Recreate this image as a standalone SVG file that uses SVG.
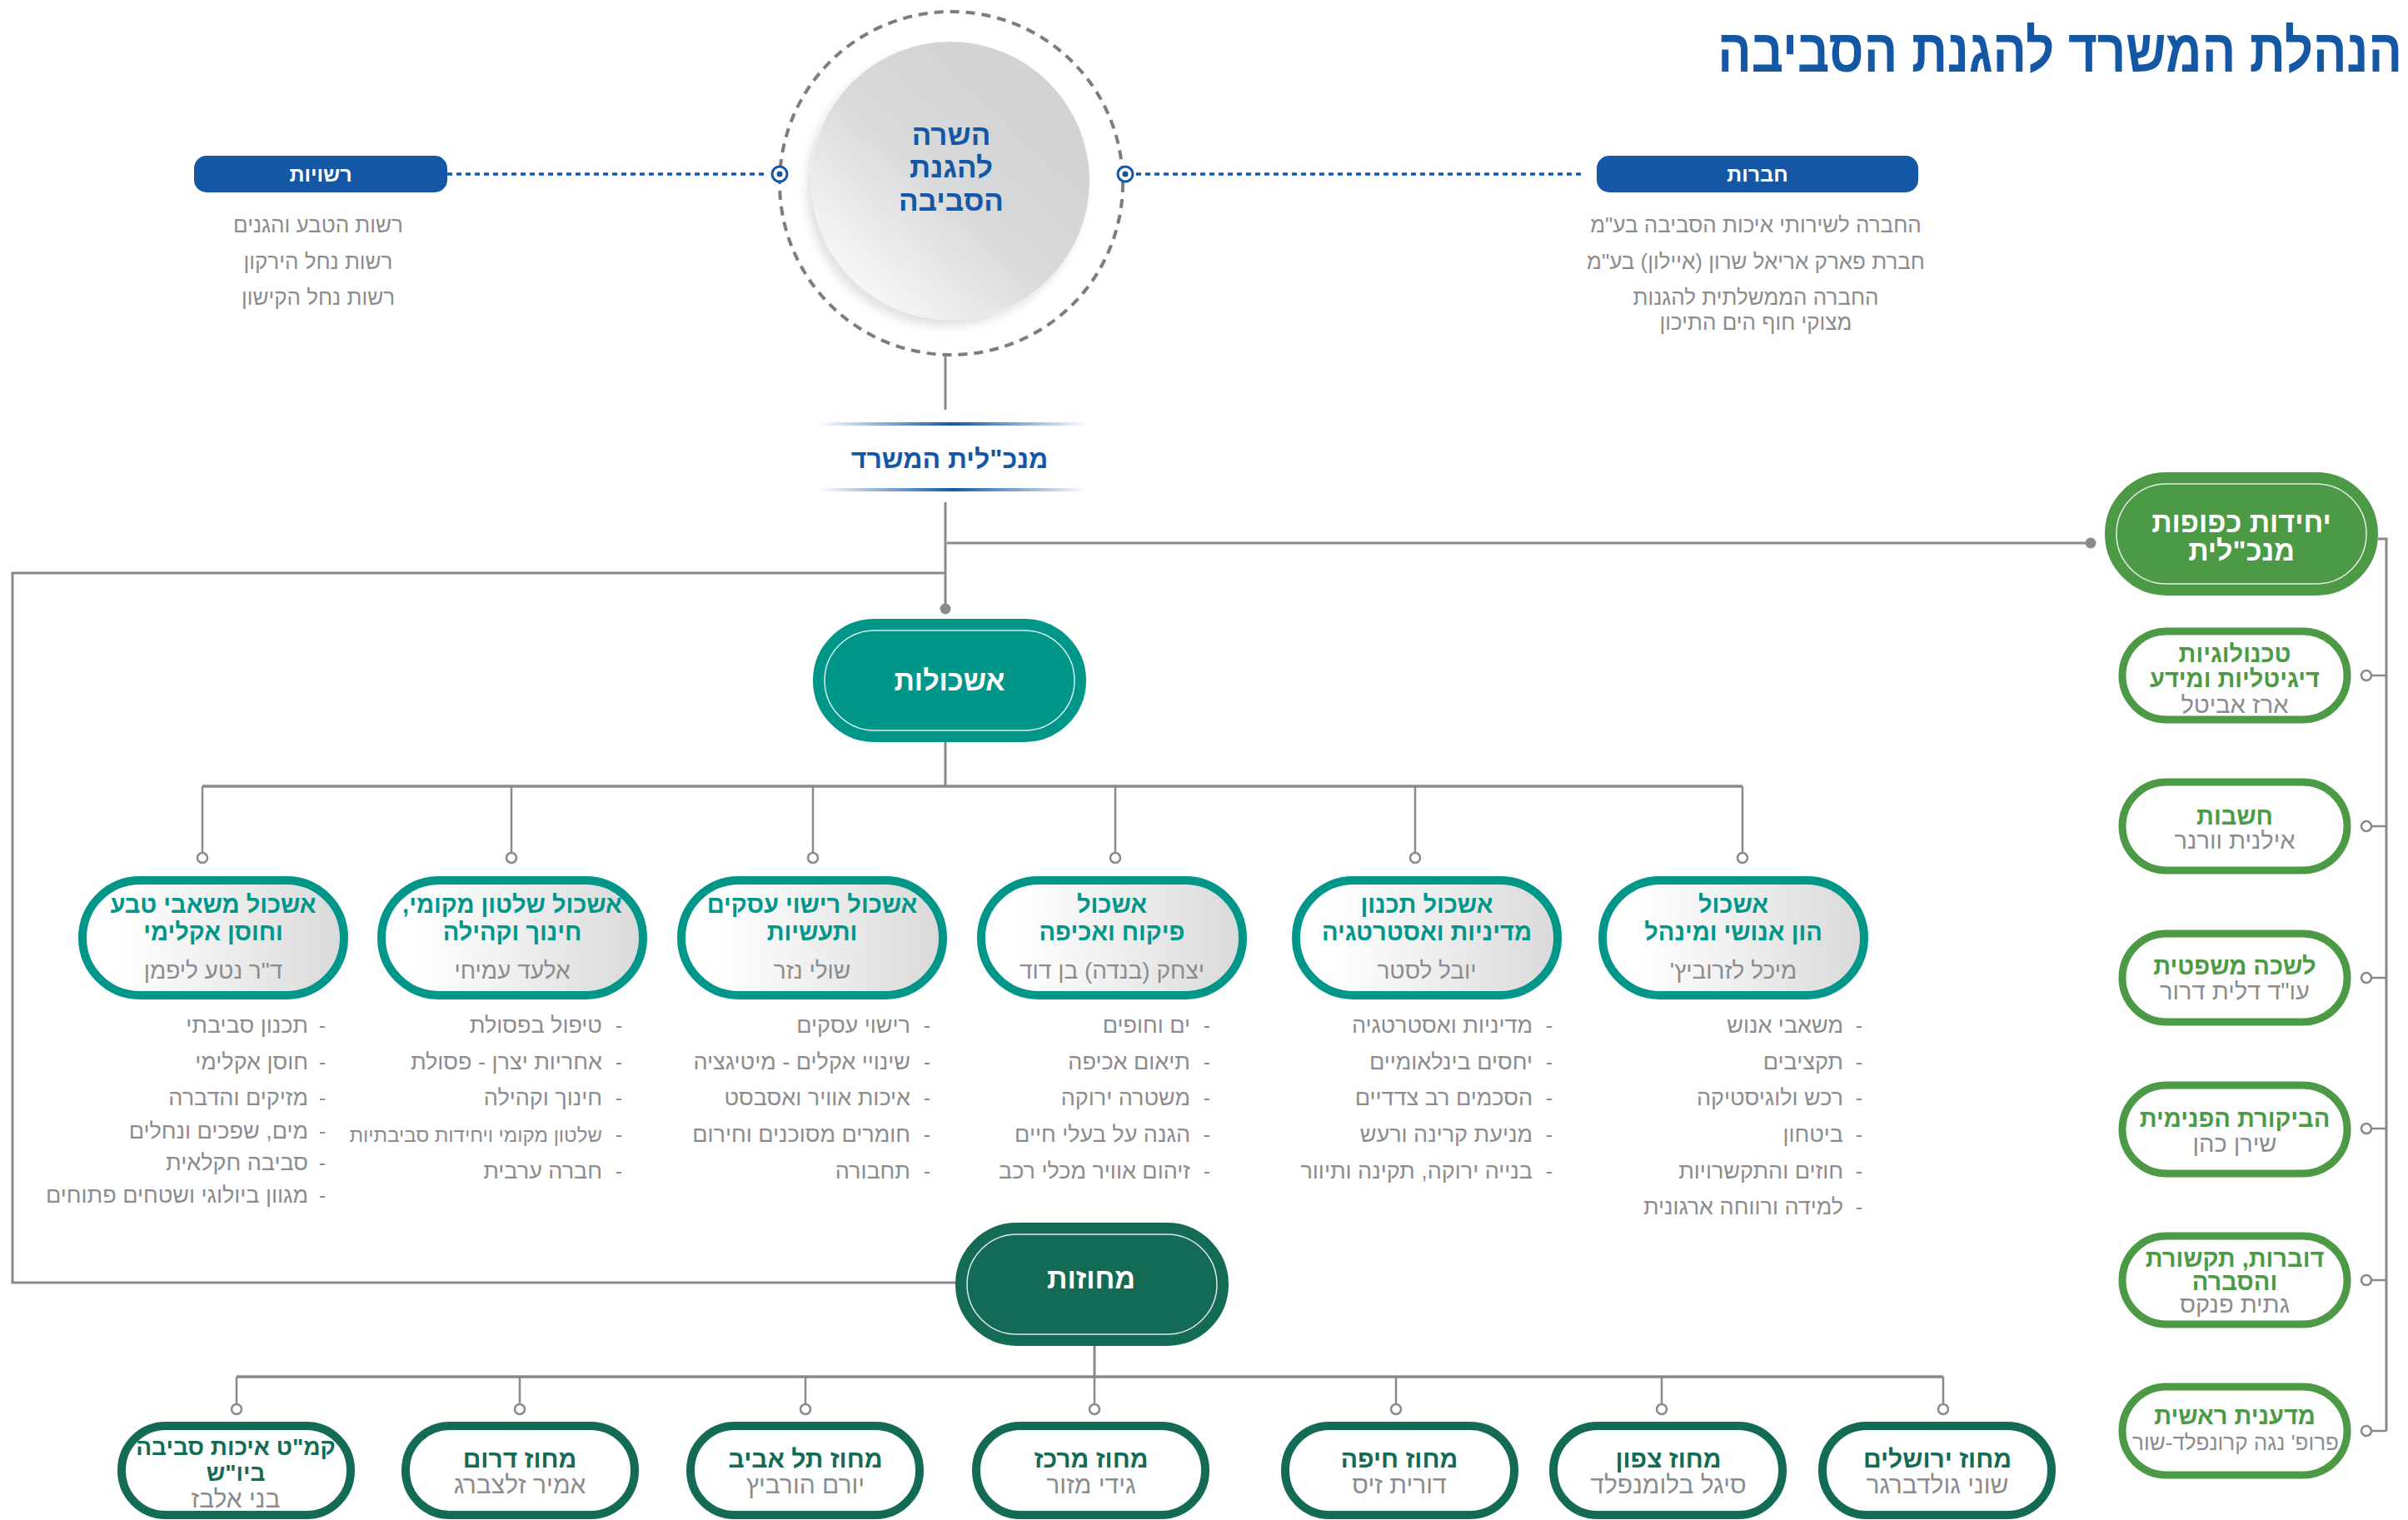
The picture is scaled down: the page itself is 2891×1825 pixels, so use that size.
<svg xmlns="http://www.w3.org/2000/svg" width="2891" height="1825" viewBox="0 0 2891 1825">
<defs>
  <linearGradient id="gCluster" x1="0" y1="0" x2="1" y2="0">
    <stop offset="0.15" stop-color="#ffffff"/>
    <stop offset="1" stop-color="#d9d9da"/>
  </linearGradient>
  <linearGradient id="gMinister" x1="0.15" y1="0.9" x2="0.75" y2="0.25">
    <stop offset="0" stop-color="#f8f8f8"/>
    <stop offset="0.55" stop-color="#d9dadc"/>
    <stop offset="1" stop-color="#d2d3d5"/>
  </linearGradient>
  <linearGradient id="gLine" x1="0" y1="0" x2="1" y2="0">
    <stop offset="0" stop-color="#1457a5" stop-opacity="0"/>
    <stop offset="0.5" stop-color="#1457a5"/>
    <stop offset="1" stop-color="#1457a5" stop-opacity="0"/>
  </linearGradient>
  <filter id="shadow" x="-20%" y="-20%" width="140%" height="140%">
    <feGaussianBlur in="SourceAlpha" stdDeviation="6"/>
    <feOffset dx="-6" dy="8"/>
    <feComponentTransfer><feFuncA type="linear" slope="0.12"/></feComponentTransfer>
    <feMerge><feMergeNode/><feMergeNode in="SourceGraphic"/></feMerge>
  </filter>
</defs>
<style>
  text { font-family: "Liberation Sans", "DejaVu Sans", sans-serif; direction: rtl; }
  .ln { stroke: #8a8a8e; stroke-width: 3; fill: none; }
  .ln2 { stroke: #8a8a8e; stroke-width: 2.5; fill: none; }
  .oc { fill: #ffffff; stroke: #8a8a8e; stroke-width: 2.5; }
  .dot { fill: #8a8a8e; }
  .dotted { stroke: #1457a5; stroke-width: 3.5; stroke-dasharray: 6 5; fill: none; }
  .ring { fill: #ffffff; stroke: #1457a5; stroke-width: 3; }
  .pill { fill: #1457a5; }
  .pill-t { fill: #ffffff; font-weight: bold; font-size: 25px; text-anchor: middle; }
  .side { fill: #8c8c8e; font-size: 26px; text-anchor: middle; }
  .bt { fill: #1457a5; font-weight: bold; text-anchor: middle; }
  .cl { fill: url(#gCluster); stroke: #00968a; stroke-width: 10; }
  .cl-t { fill: #00968a; font-weight: bold; font-size: 29px; text-anchor: middle; }
  .nm { fill: #8c8c8e; font-size: 28px; text-anchor: middle; }
  .rnm { fill: #8c8c8e; font-size: 30px; text-anchor: middle; }
  .li { fill: #8c8c8e; font-size: 27px; text-anchor: start; }
  .bul { fill: #8c8c8e; font-size: 25px; text-anchor: middle; }
  .rg { fill: #ffffff; stroke: #146b55; stroke-width: 10; }
  .rg-t { fill: #146b55; font-weight: bold; font-size: 30px; text-anchor: middle; }
  .sb { fill: #ffffff; stroke: #4c9a45; stroke-width: 9; }
  .sb-t { fill: #4c9a45; font-weight: bold; font-size: 29px; text-anchor: middle; }
  .sb-n { fill: #8c8c8e; font-size: 29px; text-anchor: middle; }
  .big-t { fill: #ffffff; font-weight: bold; font-size: 34px; text-anchor: middle; }
  .inner { fill: none; stroke: #ffffff; stroke-width: 1.5; opacity: 0.85; }
</style>

<!-- Title -->
<text x="2884" y="0" transform="translate(0,86) scale(1,1.2)" style="fill:#1457a5;font-weight:bold;font-size:60px;text-anchor:start">הנהלת המשרד להגנת הסביבה</text>

<!-- Connectors -->
<g id="connectors">
  <line class="dotted" x1="537" y1="209" x2="922" y2="209"/>
  <line class="dotted" x1="1364" y1="209" x2="1899" y2="209"/>
  <line class="ln" x1="1135" y1="428" x2="1135" y2="492"/>
  <line class="ln" x1="1135" y1="603" x2="1135" y2="731"/>
  <circle class="dot" cx="1135" cy="731" r="6.5"/>
  <line class="ln" x1="1137" y1="652" x2="2510" y2="652"/>
  <circle class="dot" cx="2510" cy="652" r="6.5"/>
  <polyline class="ln" points="1135,688 15,688 15,1540 1149,1540"/>
  <!-- clusters -->
  <line class="ln" x1="1135" y1="891" x2="1135" y2="944"/>
  <line class="ln" x1="243" y1="944" x2="2092" y2="944" style="stroke-width:3.5"/>
  <g class="ln2">
    <line x1="243" y1="944" x2="243" y2="1024"/>
    <line x1="614" y1="944" x2="614" y2="1024"/>
    <line x1="976" y1="944" x2="976" y2="1024"/>
    <line x1="1339" y1="944" x2="1339" y2="1024"/>
    <line x1="1699" y1="944" x2="1699" y2="1024"/>
    <line x1="2092" y1="944" x2="2092" y2="1024"/>
  </g>
  <circle class="oc" cx="243" cy="1030" r="6"/>
  <circle class="oc" cx="614" cy="1030" r="6"/>
  <circle class="oc" cx="976" cy="1030" r="6"/>
  <circle class="oc" cx="1339" cy="1030" r="6"/>
  <circle class="oc" cx="1699" cy="1030" r="6"/>
  <circle class="oc" cx="2092" cy="1030" r="6"/>
  <!-- regions -->
  <line class="ln" x1="1314" y1="1616" x2="1314" y2="1653"/>
  <line class="ln" x1="284" y1="1653" x2="2333" y2="1653" style="stroke-width:3.5"/>
  <g class="ln2">
    <line x1="284" y1="1653" x2="284" y2="1686"/>
    <line x1="624" y1="1653" x2="624" y2="1686"/>
    <line x1="967" y1="1653" x2="967" y2="1686"/>
    <line x1="1314" y1="1653" x2="1314" y2="1686"/>
    <line x1="1676" y1="1653" x2="1676" y2="1686"/>
    <line x1="1995" y1="1653" x2="1995" y2="1686"/>
    <line x1="2333" y1="1653" x2="2333" y2="1686"/>
  </g>
  <circle class="oc" cx="284" cy="1692" r="6"/>
  <circle class="oc" cx="624" cy="1692" r="6"/>
  <circle class="oc" cx="967" cy="1692" r="6"/>
  <circle class="oc" cx="1314" cy="1692" r="6"/>
  <circle class="oc" cx="1676" cy="1692" r="6"/>
  <circle class="oc" cx="1995" cy="1692" r="6"/>
  <circle class="oc" cx="2333" cy="1692" r="6"/>
  <!-- right column -->
  <polyline class="ln" points="2855,647 2865,647 2865,1718"/>
  <g class="ln2">
    <line x1="2847" y1="811" x2="2865" y2="811"/>
    <line x1="2847" y1="992" x2="2865" y2="992"/>
    <line x1="2847" y1="1174" x2="2865" y2="1174"/>
    <line x1="2847" y1="1355" x2="2865" y2="1355"/>
    <line x1="2847" y1="1537" x2="2865" y2="1537"/>
    <line x1="2847" y1="1718" x2="2865" y2="1718"/>
  </g>
  <circle class="oc" cx="2841" cy="811" r="6"/>
  <circle class="oc" cx="2841" cy="992" r="6"/>
  <circle class="oc" cx="2841" cy="1174" r="6"/>
  <circle class="oc" cx="2841" cy="1355" r="6"/>
  <circle class="oc" cx="2841" cy="1537" r="6"/>
  <circle class="oc" cx="2841" cy="1718" r="6"/>
</g>

<!-- Minister -->
<g id="minister">
  <circle cx="1142" cy="220" r="206" fill="none" stroke="#7d7d7f" stroke-width="4" stroke-dasharray="11 8"/>
  <circle cx="1141" cy="217" r="167" fill="url(#gMinister)" filter="url(#shadow)"/>
  <text class="bt" x="1142" y="174" style="font-size:35px">השרה</text>
  <text class="bt" x="1142" y="213" style="font-size:35px">להגנת</text>
  <text class="bt" x="1142" y="253" style="font-size:35px">הסביבה</text>
  <circle class="ring" cx="936" cy="209" r="9"/>
  <circle cx="936" cy="209" r="3.5" fill="#1457a5"/>
  <circle class="ring" cx="1351" cy="209" r="9"/>
  <circle cx="1351" cy="209" r="3.5" fill="#1457a5"/>
</g>

<!-- Authorities -->
<g id="authorities">
  <rect class="pill" x="233" y="187" width="304" height="44" rx="15"/>
  <text class="pill-t" x="385" y="218">רשויות</text>
  <text class="side" x="382" y="279">רשות הטבע והגנים</text>
  <text class="side" x="382" y="323">רשות נחל הירקון</text>
  <text class="side" x="382" y="366">רשות נחל הקישון</text>
</g>

<!-- Companies -->
<g id="companies">
  <rect class="pill" x="1917" y="187" width="386" height="44" rx="15"/>
  <text class="pill-t" x="2110" y="218">חברות</text>
  <text class="side" x="2108" y="279">החברה לשירותי איכות הסביבה בע"מ</text>
  <text class="side" x="2108" y="323">חברת פארק אריאל שרון (איילון) בע"מ</text>
  <text class="side" x="2108" y="366">החברה הממשלתית להגנות</text>
  <text class="side" x="2108" y="396">מצוקי חוף הים התיכון</text>
</g>

<!-- Director General -->
<g id="director-general">
  <rect x="983" y="507" width="322" height="4" fill="url(#gLine)"/>
  <text class="bt" x="1140" y="562" style="font-size:32px">מנכ"לית המשרד</text>
  <rect x="983" y="586" width="322" height="4" fill="url(#gLine)"/>
</g>

<!-- Clusters hub -->
<g id="clusters-hub">
  <rect x="981" y="748" width="318" height="138" rx="69" fill="#00968a" stroke="#00968a" stroke-width="10"/>
  <rect class="inner" x="990" y="757" width="300" height="120" rx="60"/>
  <text class="big-t" x="1140" y="829">אשכולות</text>
</g>

<!-- Cluster nodes -->
<g id="cluster-1">
  <rect class="cl" x="99" y="1057" width="314" height="138" rx="69"/>
  <text class="cl-t" x="256" y="1096">אשכול משאבי טבע</text>
  <text class="cl-t" x="256" y="1129">וחוסן אקלימי</text>
  <text class="nm" x="256" y="1175">ד"ר נטע ליפמן</text>
</g>
<g id="cluster-2">
  <rect class="cl" x="458" y="1057" width="314" height="138" rx="69"/>
  <text class="cl-t" x="615" y="1096">אשכול שלטון מקומי,</text>
  <text class="cl-t" x="615" y="1129">חינוך וקהילה</text>
  <text class="nm" x="615" y="1175">אלעד עמיחי</text>
</g>
<g id="cluster-3">
  <rect class="cl" x="818" y="1057" width="314" height="138" rx="69"/>
  <text class="cl-t" x="975" y="1096">אשכול רישוי עסקים</text>
  <text class="cl-t" x="975" y="1129">ותעשיות</text>
  <text class="nm" x="975" y="1175">שולי נזר</text>
</g>
<g id="cluster-4">
  <rect class="cl" x="1178" y="1057" width="314" height="138" rx="69"/>
  <text class="cl-t" x="1335" y="1096">אשכול</text>
  <text class="cl-t" x="1335" y="1129">פיקוח ואכיפה</text>
  <text class="nm" x="1335" y="1175">יצחק (בנדה) בן דוד</text>
</g>
<g id="cluster-5">
  <rect class="cl" x="1556" y="1057" width="314" height="138" rx="69"/>
  <text class="cl-t" x="1713" y="1096">אשכול תכנון</text>
  <text class="cl-t" x="1713" y="1129">מדיניות ואסטרטגיה</text>
  <text class="nm" x="1713" y="1175">יובל לסטר</text>
</g>
<g id="cluster-6">
  <rect class="cl" x="1924" y="1057" width="314" height="138" rx="69"/>
  <text class="cl-t" x="2081" y="1096">אשכול</text>
  <text class="cl-t" x="2081" y="1129">הון אנושי ומינהל</text>
  <text class="nm" x="2081" y="1175">מיכל לזרוביץ'</text>
</g>

<!-- Cluster bullet lists -->
<g id="cluster-1-list">
  <text class="li" x="370" y="1240">תכנון סביבתי</text><text class="bul" x="387" y="1240">-</text>
  <text class="li" x="370" y="1284">חוסן אקלימי</text><text class="bul" x="387" y="1284">-</text>
  <text class="li" x="370" y="1327">מזיקים והדברה</text><text class="bul" x="387" y="1327">-</text>
  <text class="li" x="370" y="1367">מים, שפכים ונחלים</text><text class="bul" x="387" y="1367">-</text>
  <text class="li" x="370" y="1405">סביבה חקלאית</text><text class="bul" x="387" y="1405">-</text>
  <text class="li" x="370" y="1444">מגוון ביולוגי ושטחים פתוחים</text><text class="bul" x="387" y="1444">-</text>
</g>
<g id="cluster-2-list">
  <text class="li" x="723" y="1240">טיפול בפסולת</text><text class="bul" x="743" y="1240">-</text>
  <text class="li" x="723" y="1284">אחריות יצרן - פסולת</text><text class="bul" x="743" y="1284">-</text>
  <text class="li" x="723" y="1327">חינוך וקהילה</text><text class="bul" x="743" y="1327">-</text>
  <text class="li" x="723" y="1371" style="font-size:24px">שלטון מקומי ויחידות סביבתיות</text><text class="bul" x="743" y="1371">-</text>
  <text class="li" x="723" y="1415">חברה ערבית</text><text class="bul" x="743" y="1415">-</text>
</g>
<g id="cluster-3-list">
  <text class="li" x="1093" y="1240">רישוי עסקים</text><text class="bul" x="1113" y="1240">-</text>
  <text class="li" x="1093" y="1284">שינויי אקלים - מיטיגציה</text><text class="bul" x="1113" y="1284">-</text>
  <text class="li" x="1093" y="1327">איכות אוויר ואסבסט</text><text class="bul" x="1113" y="1327">-</text>
  <text class="li" x="1093" y="1371">חומרים מסוכנים וחירום</text><text class="bul" x="1113" y="1371">-</text>
  <text class="li" x="1093" y="1415">תחבורה</text><text class="bul" x="1113" y="1415">-</text>
</g>
<g id="cluster-4-list">
  <text class="li" x="1429" y="1240">ים וחופים</text><text class="bul" x="1449" y="1240">-</text>
  <text class="li" x="1429" y="1284">תיאום אכיפה</text><text class="bul" x="1449" y="1284">-</text>
  <text class="li" x="1429" y="1327">משטרה ירוקה</text><text class="bul" x="1449" y="1327">-</text>
  <text class="li" x="1429" y="1371">הגנה על בעלי חיים</text><text class="bul" x="1449" y="1371">-</text>
  <text class="li" x="1429" y="1415">זיהום אוויר מכלי רכב</text><text class="bul" x="1449" y="1415">-</text>
</g>
<g id="cluster-5-list">
  <text class="li" x="1840" y="1240">מדיניות ואסטרטגיה</text><text class="bul" x="1860" y="1240">-</text>
  <text class="li" x="1840" y="1284">יחסים בינלאומיים</text><text class="bul" x="1860" y="1284">-</text>
  <text class="li" x="1840" y="1327">הסכמים רב צדדיים</text><text class="bul" x="1860" y="1327">-</text>
  <text class="li" x="1840" y="1371">מניעת קרינה ורעש</text><text class="bul" x="1860" y="1371">-</text>
  <text class="li" x="1840" y="1415">בנייה ירוקה, תקינה ותיוור</text><text class="bul" x="1860" y="1415">-</text>
</g>
<g id="cluster-6-list">
  <text class="li" x="2213" y="1240">משאבי אנוש</text><text class="bul" x="2232" y="1240">-</text>
  <text class="li" x="2213" y="1284">תקציבים</text><text class="bul" x="2232" y="1284">-</text>
  <text class="li" x="2213" y="1327">רכש ולוגיסטיקה</text><text class="bul" x="2232" y="1327">-</text>
  <text class="li" x="2213" y="1371">ביטחון</text><text class="bul" x="2232" y="1371">-</text>
  <text class="li" x="2213" y="1415">חוזים והתקשרויות</text><text class="bul" x="2232" y="1415">-</text>
  <text class="li" x="2213" y="1458">למידה ורווחה ארגונית</text><text class="bul" x="2232" y="1458">-</text>
</g>

<!-- Districts hub -->
<g id="districts-hub">
  <rect x="1152" y="1473" width="318" height="138" rx="69" fill="#146b55" stroke="#146b55" stroke-width="10"/>
  <rect class="inner" x="1161" y="1482" width="300" height="120" rx="60"/>
  <text class="big-t" x="1310" y="1547">מחוזות</text>
</g>

<!-- District nodes -->
<g id="district-1">
  <rect class="rg" x="146" y="1712" width="275" height="107" rx="53"/>
  <text class="rg-t" x="283" y="1747" style="font-size:28px">קמ"ט איכות סביבה</text>
  <text class="rg-t" x="283" y="1778" style="font-size:28px">ביו"ש</text>
  <text class="rnm" x="283" y="1810">בני אלבז</text>
</g>
<g id="district-2">
  <rect class="rg" x="487" y="1712" width="275" height="107" rx="53"/>
  <text class="rg-t" x="624" y="1762">מחוז דרום</text>
  <text class="rnm" x="624" y="1793">אמיר זלצברג</text>
</g>
<g id="district-3">
  <rect class="rg" x="829" y="1712" width="275" height="107" rx="53"/>
  <text class="rg-t" x="967" y="1762">מחוז תל אביב</text>
  <text class="rnm" x="967" y="1793">יורם הורביץ</text>
</g>
<g id="district-4">
  <rect class="rg" x="1172" y="1712" width="275" height="107" rx="53"/>
  <text class="rg-t" x="1310" y="1762">מחוז מרכז</text>
  <text class="rnm" x="1310" y="1793">גידי מזור</text>
</g>
<g id="district-5">
  <rect class="rg" x="1543" y="1712" width="275" height="107" rx="53"/>
  <text class="rg-t" x="1680" y="1762">מחוז חיפה</text>
  <text class="rnm" x="1680" y="1793">דורית זיס</text>
</g>
<g id="district-6">
  <rect class="rg" x="1865" y="1712" width="275" height="107" rx="53"/>
  <text class="rg-t" x="2003" y="1762">מחוז צפון</text>
  <text class="rnm" x="2003" y="1793">סיגל בלומנפלד</text>
</g>
<g id="district-7">
  <rect class="rg" x="2188" y="1712" width="275" height="107" rx="53"/>
  <text class="rg-t" x="2326" y="1762">מחוז ירושלים</text>
  <text class="rnm" x="2326" y="1793">שוני גולדברגר</text>
</g>

<!-- Subordinate units hub -->
<g id="units-hub">
  <rect x="2532" y="572" width="318" height="138" rx="69" fill="#4c9a45" stroke="#4c9a45" stroke-width="10"/>
  <rect class="inner" x="2541" y="581" width="300" height="120" rx="60"/>
  <text class="big-t" x="2691" y="639">יחידות כפופות</text>
  <text class="big-t" x="2691" y="673">מנכ"לית</text>
</g>

<!-- Subordinate units -->
<g id="unit-1">
  <rect class="sb" x="2548" y="758" width="270" height="106" rx="53"/>
  <text class="sb-t" x="2683" y="795">טכנולוגיות</text>
  <text class="sb-t" x="2683" y="825">דיגיטליות ומידע</text>
  <text class="sb-n" x="2683" y="856">ארז אביטל</text>
</g>
<g id="unit-2">
  <rect class="sb" x="2548" y="939" width="270" height="106" rx="53"/>
  <text class="sb-t" x="2683" y="990">חשבות</text>
  <text class="sb-n" x="2683" y="1019">אילנית וורנר</text>
</g>
<g id="unit-3">
  <rect class="sb" x="2548" y="1121" width="270" height="106" rx="53"/>
  <text class="sb-t" x="2683" y="1170">לשכה משפטית</text>
  <text class="sb-n" x="2683" y="1200">עו"ד דלית דרור</text>
</g>
<g id="unit-4">
  <rect class="sb" x="2548" y="1303" width="270" height="106" rx="53"/>
  <text class="sb-t" x="2683" y="1353">הביקורת הפנימית</text>
  <text class="sb-n" x="2683" y="1383">שירן כהן</text>
</g>
<g id="unit-5">
  <rect class="sb" x="2548" y="1484" width="270" height="106" rx="53"/>
  <text class="sb-t" x="2683" y="1521">דוברות, תקשורת</text>
  <text class="sb-t" x="2683" y="1549">והסברה</text>
  <text class="sb-n" x="2683" y="1576">גתית פנקס</text>
</g>
<g id="unit-6">
  <rect class="sb" x="2548" y="1665" width="270" height="106" rx="53"/>
  <text class="sb-t" x="2683" y="1710">מדענית ראשית</text>
  <text class="sb-n" x="2684" y="1741" style="font-size:26px">פרופ' נגה קרונפלד-שור</text>
</g>
</svg>
